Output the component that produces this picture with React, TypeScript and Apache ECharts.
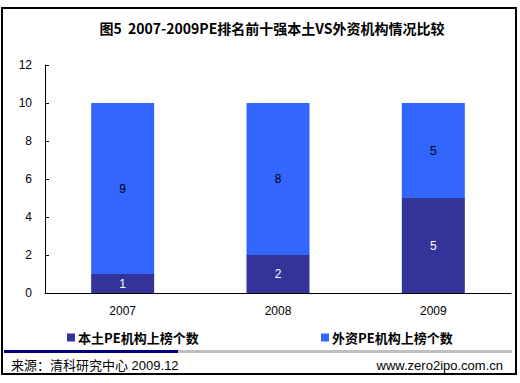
import React, { useEffect, useRef } from "react";
import * as echarts from "echarts";

const categories = ["2007", "2008", "2009"];
const domesticName = "本土PE机构上榜个数";
const foreignName = "外资PE机构上榜个数";
const domesticValues = [1, 2, 5];
const foreignValues = [9, 8, 5];
const yTicks = { min: 0, max: 12, interval: 2 };
const titleText = "图5  2007-2009PE排名前十强本土VS外资机构情况比较";
const sourceText = "来源：清科研究中心 2009.12";
const siteText = "www.zero2ipo.com.cn";

const latin = "Liberation Sans, Arial, Noto Sans CJK SC, sans-serif";
const cjk = "Noto Sans CJK SC, Liberation Sans, sans-serif";

export default function App() {
  const ref = useRef<HTMLDivElement>(null);
  useEffect(() => {
    if (!ref.current) return;
    const chart = echarts.init(ref.current, undefined, { renderer: "svg" });
    chart.setOption({
      animation: false,
      backgroundColor: "#ffffff",
      title: {
        text: titleText,
        left: 267,
        textAlign: "center",
        top: 16,
        textStyle: { fontFamily: cjk, fontSize: 14, fontWeight: "bold", color: "#000" },
      },
      legend: [
        {
          data: [domesticName],
          left: 62,
          top: 326,
          icon: "rect",
          itemWidth: 8,
          itemHeight: 8,
          textStyle: { fontFamily: cjk, fontSize: 13, fontWeight: "bold", color: "#000", padding: [0, 0, 0, -2] },
        },
        {
          data: [foreignName],
          left: 316,
          top: 326,
          icon: "rect",
          itemWidth: 8,
          itemHeight: 8,
          textStyle: { fontFamily: cjk, fontSize: 13, fontWeight: "bold", color: "#000", padding: [0, 0, 0, -2] },
        },
      ],
      grid: { left: 45, top: 65, width: 466, height: 228, containLabel: false },
      xAxis: {
        type: "category",
        data: categories,
        axisLine: { lineStyle: { color: "#000", width: 1 } },
        axisTick: { inside: true, length: 3, lineStyle: { color: "#000" } },
        axisLabel: { color: "#000", fontFamily: latin, fontSize: 12, margin: 12 },
      },
      yAxis: {
        type: "value",
        min: yTicks.min,
        max: yTicks.max,
        interval: yTicks.interval,
        axisLine: { show: true, lineStyle: { color: "#000", width: 1 } },
        axisTick: { show: true, inside: true, length: 4, lineStyle: { color: "#000" } },
        axisLabel: { color: "#000", fontFamily: latin, fontSize: 12, margin: 13 },
        splitLine: { show: false },
      },
      series: [
        {
          name: domesticName,
          type: "bar",
          stack: "total",
          barWidth: 63,
          data: domesticValues,
          itemStyle: { color: "#333399" },
          label: { show: true, position: "inside", color: "#fff", fontFamily: latin, fontSize: 12 },
        },
        {
          name: foreignName,
          type: "bar",
          stack: "total",
          barWidth: 63,
          data: foreignValues,
          itemStyle: { color: "#3366FF" },
          label: { show: true, position: "inside", color: "#000", fontFamily: latin, fontSize: 12 },
        },
      ],
      graphic: [
        {
          type: "rect",
          shape: { x: 2, y: 8, width: 514, height: 366 },
          style: { fill: "none", stroke: "#000", lineWidth: 2 },
          silent: true,
        },
        { type: "rect", shape: { x: 4, y: 350, width: 174, height: 3 }, style: { fill: "#000080" }, silent: true },
        { type: "rect", shape: { x: 178, y: 350, width: 334, height: 3 }, style: { fill: "#C0C0C0" }, silent: true },
        {
          type: "text",
          x: 11,
          y: 365,
          style: { text: sourceText, fontFamily: latin, fontSize: 13, fill: "#000", textAlign: "left", textVerticalAlign: "middle" },
        },
        {
          type: "text",
          x: 503,
          y: 365,
          style: { text: siteText, fontFamily: latin, fontSize: 13, fill: "#000", textAlign: "right", textVerticalAlign: "middle" },
        },
      ],
    });
    return () => chart.dispose();
  }, []);
  return (
    <div
      ref={ref}
      style={{ position: "absolute", left: 0, top: 0, width: 520, height: 383, background: "#fff" }}
    />
  );
}
